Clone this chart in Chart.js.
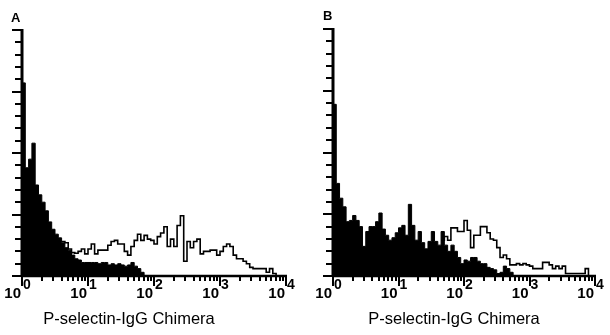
<!DOCTYPE html>
<html>
<head>
<meta charset="utf-8">
<script src="https://cdn.jsdelivr.net/npm/chart.js@4/dist/chart.umd.min.js"></script>
<style>
  body { margin: 0; background: #fff; }
  canvas { position: absolute; top: 0; }
  #chartA { left: 0; }
  #chartB { left: 305px; }
</style>
</head>
<body>
<canvas id="chartA" width="305" height="335"></canvas>
<canvas id="chartB" width="305" height="335"></canvas>
<script>
// histogram channels: 20 bins per decade, 10^0 .. 10^4 (80 bins)
var binsPerDecade = 20;
var decadeTicks = [1, 10, 100, 1000, 10000];
var decadeExponents = ['0', '1', '2', '3', '4'];
var yMax = 20;          // 20 small ticks on the count axis
var yMajorEvery = 5;
var axisTitle = 'P-selectin-IgG Chimera';

// panel A - filled (control) and open (stained)
var controlA = [15.7, 8.8, 9.5, 10.8, 7.4, 6.6, 6.0, 5.3, 4.4, 3.8,
  3.4, 3.1, 2.7, 2.3, 2.1, 1.7, 1.4, 1.3, 1.1, 1.1,
  1.1, 1.1, 1.1, 1.0, 1.1, 1.1, 0.9, 1.0, 0.9, 1.0,
  0.9, 0.8, 0.9, 1.1, 0.8, 0.6, 0.3, 0, 0, 0,
  0, 0, 0, 0, 0, 0, 0, 0, 0, 0,
  0, 0, 0, 0, 0, 0, 0, 0, 0, 0,
  0, 0, 0, 0, 0, 0, 0, 0, 0, 0,
  0, 0, 0, 0, 0, 0, 0, 0, 0, 0];
var stainedA = [null, null, null, null, null, null, null, null, null, null,
  null, null, 2.8, 2.7, 2.2, 1.9, 1.85, 2.0, 2.2, 1.8,
  2.2, 2.6, 1.8, 2.1, 2.1, 2.1, 2.5, 2.8, 2.9, 2.6,
  2.6, 2.0, 1.7, 2.4, 2.9, 3.4, 2.9, 3.3, 3.0, 2.9,
  2.6, 3.2, 3.5, 4.0, 2.4, 3.0, 2.4, 4.1, 4.9, 1.2,
  2.8, 2.3, 2.8, 3.0, 1.8, 2.0, 2.0, 2.1, 2.1, 1.7,
  2.0, 2.4, 2.6, 2.4, 1.7, 1.4, 1.4, 1.2, 1.0, 0.7,
  0.6, 0.6, 0.6, 0.6, 0.3, 0.6, 0.2, 0, 0, 0];

// panel B
var controlB = [13.9, 7.5, 6.3, 5.6, 4.4, 4.5, 4.9, 4.5, 4.0, 2.4,
  3.6, 4.0, 4.0, 4.4, 5.1, 3.8, 3.3, 2.9, 3.1, 3.5,
  3.9, 4.1, 3.3, 5.8, 4.1, 2.9, 3.6, 2.7, 2.2, 2.8,
  3.6, 2.8, 2.5, 3.6, 2.5, 2.0, 2.5, 2.0, 1.5, 1.0,
  1.3, 1.2, 1.5, 1.5, 1.2, 1.0, 1.0, 0.7, 0.6, 0.5,
  0.2, 0.3, 0.8, 0.6, 0.3, 0, 0, 0, 0, 0,
  0, 0, 0, 0, 0, 0, 0, 0, 0, 0,
  0, 0, 0, 0, 0, 0, 0, 0, 0, 0];
var stainedB = [null, null, null, null, null, null, null, null, null, null,
  null, null, null, null, null, null, null, null, null, null,
  null, null, null, null, null, null, null, null, null, null,
  null, null, null, 2.9, 3.2, 2.9, 3.9, 3.9, 3.6, 3.6,
  4.5, 3.7, 2.3, 3.3, 3.3, 4.0, 4.0, 3.5, 3.0, 2.9,
  2.3, 1.5, 1.7, 1.4, 0.9, 0.9, 1.0, 0.9, 1.0, 0.9,
  0.8, 0.6, 0.6, 0.6, 1.1, 1.1, 0.9, 0.6, 0.8, 0.6,
  0.8, 0.2, 0.2, 0.2, 0.2, 0.2, 0.2, 0.6, 0, 0];

// turn bin counts into step points at each bin's left edge
function toSteps(counts) {
  var pts = counts.map(function (c, i) {
    return { x: Math.pow(10, i / binsPerDecade), y: c };
  });
  pts.push({ x: decadeTicks[decadeTicks.length - 1], y: 0 });
  return pts;
}

var flowAxes = {
  id: 'flowAxes',
  afterDraw: function (chart) {
    var ctx = chart.ctx, a = chart.chartArea;
    var xs = chart.scales.x, ys = chart.scales.y;
    var o = chart.options.plugins.flowAxes;
    ctx.save();
    ctx.strokeStyle = '#000';
    ctx.fillStyle = '#000';

    // axis lines
    ctx.lineWidth = 3;
    ctx.beginPath();
    ctx.moveTo(a.left, a.top - 1);
    ctx.lineTo(a.left, a.bottom + 1);
    ctx.stroke();
    ctx.lineWidth = 2.5;
    ctx.beginPath();
    ctx.moveTo(a.left - 1, a.bottom);
    ctx.lineTo(a.right + 1, a.bottom);
    ctx.stroke();

    // count ticks
    ctx.lineWidth = 2;
    for (var v = 0; v <= yMax; v++) {
      var y = Math.round(ys.getPixelForValue(v));
      var len = v % yMajorEvery === 0 ? 10 : 7;
      ctx.beginPath();
      ctx.moveTo(a.left - len, y);
      ctx.lineTo(a.left, y);
      ctx.stroke();
    }

    // log ticks
    for (var d = 0; d < decadeTicks.length; d++) {
      for (var m = 1; m <= 9; m++) {
        if (d === decadeTicks.length - 1 && m > 1) break;
        var x = Math.round(xs.getPixelForValue(m * decadeTicks[d]));
        var tl = m === 1 ? 10 : 5;
        ctx.beginPath();
        ctx.moveTo(x, a.bottom);
        ctx.lineTo(x, a.bottom + tl);
        ctx.stroke();
      }
    }

    // 10^n labels
    ctx.textBaseline = 'alphabetic';
    decadeTicks.forEach(function (t, i) {
      var x = xs.getPixelForValue(t);
      ctx.font = 'bold 15px "Liberation Sans", Arial, sans-serif';
      ctx.textAlign = 'right';
      ctx.fillText('10', x - 1, a.bottom + 22);
      ctx.font = 'bold 14px "Liberation Sans", Arial, sans-serif';
      ctx.textAlign = 'left';
      ctx.fillText(decadeExponents[i], x + 1, a.bottom + 13);
    });

    // axis title
    ctx.font = '16.5px "Liberation Sans", Arial, sans-serif';
    ctx.textAlign = 'center';
    ctx.fillText(axisTitle, o.titleX, 324);

    // panel letter
    ctx.font = 'bold 13px "Liberation Sans", Arial, sans-serif';
    ctx.textAlign = 'left';
    ctx.fillText(o.letter, o.letterX, o.letterY);
    ctx.restore();
  }
};

function makePanel(id, control, stained, pad, extra) {
  return new Chart(document.getElementById(id), {
    type: 'line',
    data: {
      datasets: [
        {
          label: 'P-selectin-IgG',
          data: toSteps(stained),
          stepped: true,
          fill: false,
          borderColor: '#000',
          borderWidth: 1.6,
          pointRadius: 0
        },
        {
          label: 'Control',
          data: toSteps(control),
          stepped: true,
          fill: 'origin',
          backgroundColor: '#000',
          borderColor: '#000',
          borderWidth: 1,
          pointRadius: 0
        }
      ]
    },
    options: {
      responsive: false,
      animation: false,
      layout: { padding: pad },
      scales: {
        x: { type: 'logarithmic', min: decadeTicks[0], max: decadeTicks[decadeTicks.length - 1], display: false },
        y: { type: 'linear', min: 0, max: yMax, display: false }
      },
      plugins: {
        legend: { display: false },
        tooltip: { enabled: false },
        flowAxes: extra
      }
    },
    plugins: [flowAxes]
  });
}

makePanel('chartA', controlA, stainedA,
  { left: 22, top: 30, right: 19, bottom: 59 },
  { letter: 'A', letterX: 11, letterY: 22, titleX: 129 });
makePanel('chartB', controlB, stainedB,
  { left: 28, top: 29, right: 15, bottom: 59 },
  { letter: 'B', letterX: 18, letterY: 20, titleX: 149 });
</script>
</body>
</html>
